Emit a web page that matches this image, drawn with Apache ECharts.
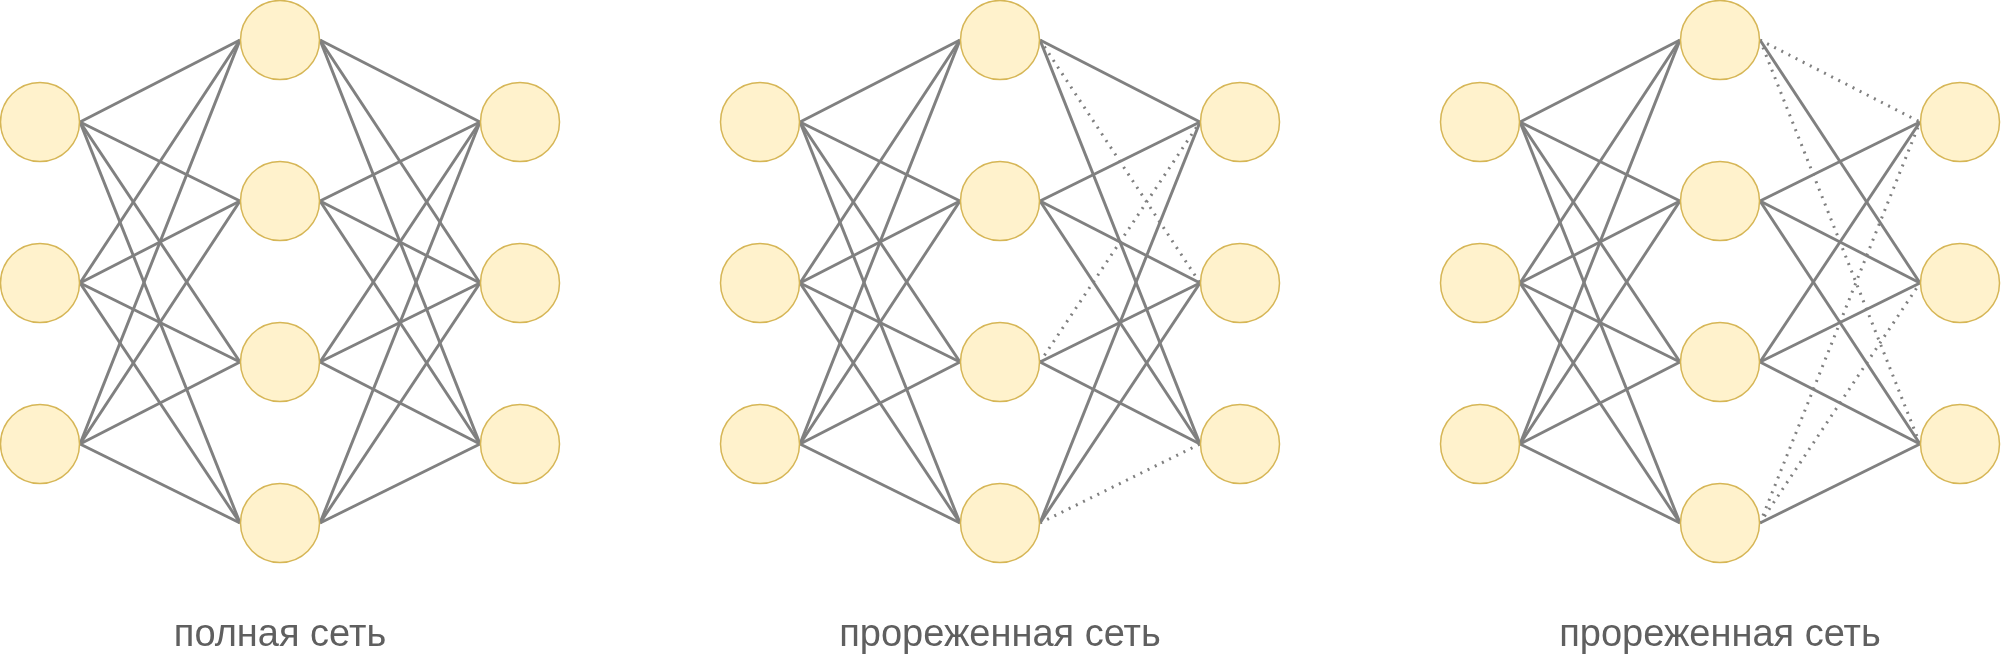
<!DOCTYPE html>
<html><head><meta charset="utf-8">
<script src="https://cdn.jsdelivr.net/npm/echarts@6/dist/echarts.min.js"></script>
<style>html,body{margin:0;padding:0;background:#fff}#c{width:2002px;height:662px}</style>
</head><body><div id="c"></div>
<script>
const networkTitles = ["полная сеть", "прореженная сеть", "прореженная сеть"];
const networkOffsets = [0, 720, 1440];
const layerX = [40, 280, 520];
const inputY = [122, 283, 444];
const hiddenY = [40, 201, 362, 523];
const outputY = [122, 283, 444];
// dropped hidden->output connections per network: [hiddenIndex, outputIndex]
const dropped = [
  [],
  [[0,1],[2,0],[3,2]],
  [[0,0],[0,2],[3,0],[3,1]]
];
const R = 40;

const nodes = [], solid = [], dotted = [], labels = [];
networkOffsets.forEach((off, n) => {
  const layers = [inputY, hiddenY, outputY];
  layers.forEach((ys, l) => ys.forEach(y => nodes.push([off + layerX[l], y])));
  inputY.forEach(a => hiddenY.forEach(b => solid.push({coords: [[off+layerX[0]+R, a], [off+layerX[1]-R, b]]})));
  hiddenY.forEach((a, i) => outputY.forEach((b, j) => {
    const e = {coords: [[off+layerX[1]+R, a], [off+layerX[2]-R, b]]};
    if (dropped[n].some(d => d[0] === i && d[1] === j)) dotted.push(e); else solid.push(e);
  }));
  labels.push({value: [off + layerX[1], 636], name: networkTitles[n]});
});

const chart = echarts.init(document.getElementById('c'));
chart.setOption({
  animation: false,
  grid: {left: 0, right: 0, top: 0, bottom: 0},
  xAxis: {type: 'value', min: 0, max: 2002, show: false},
  yAxis: {type: 'value', min: 0, max: 662, inverse: true, show: false},
  series: [
    {type: 'lines', coordinateSystem: 'cartesian2d', data: solid, z: 2,
     lineStyle: {color: '#808080', width: 3, opacity: 1}},
    {type: 'lines', coordinateSystem: 'cartesian2d', data: dotted, z: 2,
     lineStyle: {color: '#808080', width: 3, opacity: 1, type: [2, 6]}},
    {type: 'scatter', data: nodes, symbolSize: 79, z: 3,
     itemStyle: {color: '#fff2cc', borderColor: '#d6b656', borderWidth: 1.5, opacity: 1}},
    {type: 'scatter', data: labels, symbolSize: 1, z: 4,
     itemStyle: {color: 'rgba(0,0,0,0)'},
     label: {show: true, position: 'inside', formatter: p => p.name,
       fontFamily: 'Liberation Sans, Arial', fontSize: 38, color: '#5f5f5f', opacity: 1}}
  ]
});
</script></body></html>
